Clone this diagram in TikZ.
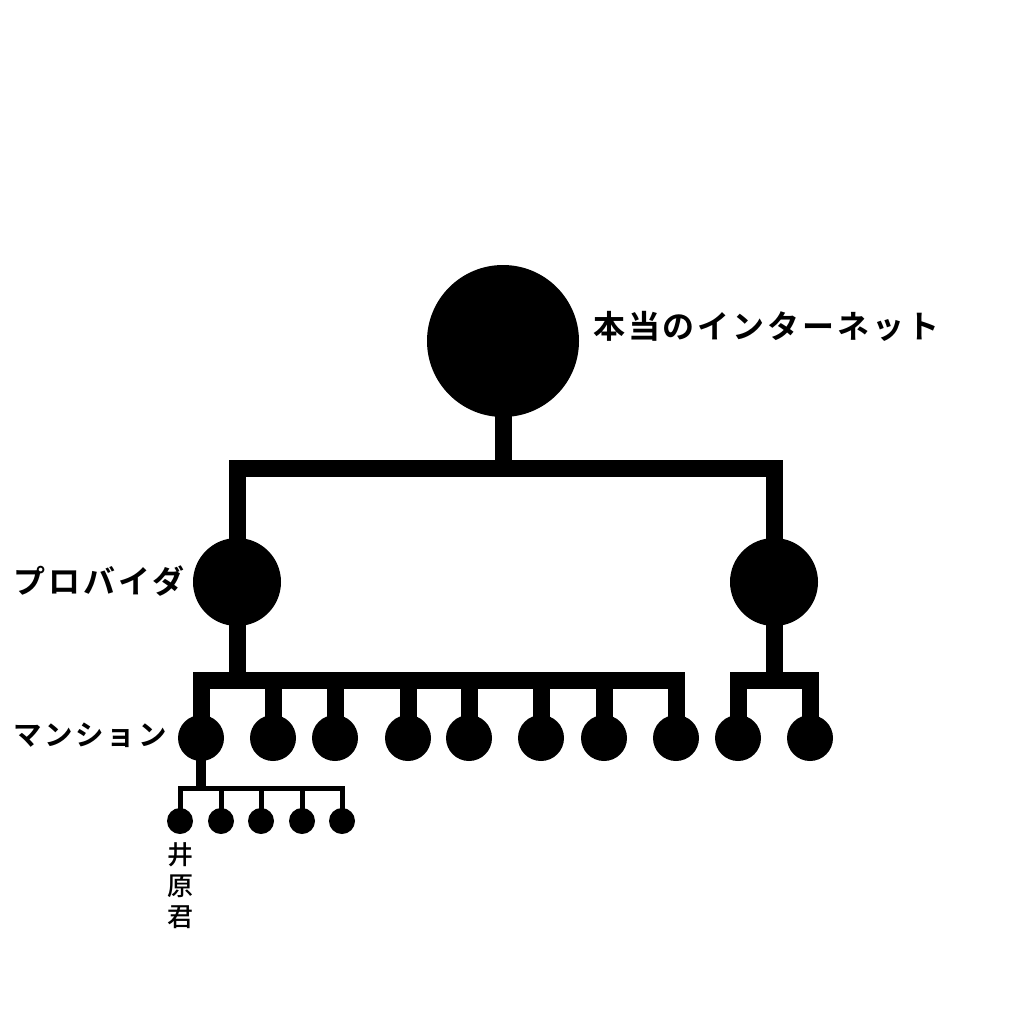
\documentclass[tikz,border=0pt]{standalone}
\usepackage{fontspec}
\newfontfamily\cjkTop{Noto Sans CJK JP Bold}[LetterSpace=9]
\newfontfamily\cjkMid{Noto Sans CJK JP Bold}[LetterSpace=9.5]
\newfontfamily\cjkLow{Noto Sans CJK JP Medium}
\usetikzlibrary{positioning, calc}
\newcommand\bigjp{\fontsize{32pt}{34pt}\selectfont\cjkTop}
\newcommand\ispjp{\fontsize{32pt}{34pt}\selectfont\cjkMid}
\newcommand\midjp{\fontsize{28.5pt}{30pt}\selectfont\cjkMid}
\newcommand\smalljp{\fontsize{26pt}{31pt}\selectfont\cjkLow}
\tikzset{
  %% filled dot of the tree
  hub/.style={circle, fill=black, draw=none, inner sep=0pt, minimum size=#1},
  %% thick square bus line
  wire/.style={draw=black, line width=#1, line join=miter, line cap=butt},
  lbl/.style={inner sep=0pt, text=black}
}
\begin{document}
\begin{tikzpicture}[x=1pt, y=-1pt]
\useasboundingbox (0,0) rectangle (1024,1024);

%% ---- nodes
\node[hub=152pt] (net) at (503,341) {};
\node[hub=88pt] (ispA) at (237,582) {};
\node[hub=88pt] (ispB) at (774,582) {};

\foreach \x [count=\i] in {201,273,335,408,469,541,604,676}
  \node[hub=46pt] (mA\i) at (\x,738) {};
\foreach \x [count=\i] in {738,810}
  \node[hub=46pt] (mB\i) at (\x,738) {};

\foreach \x [count=\i] in {180,221,261,302,342}
  \node[hub=26pt] (room\i) at (\x,821) {};

\coordinate (busTop) at (503,468);
\coordinate (busA) at (237,680);
\coordinate (busB) at (774,680);
\coordinate (busRoom) at (201,788);

%% ---- wires
\draw[wire=17pt] (net.center) -- (busTop);
\draw[wire=17pt] (ispA.center) |- (busTop) -| (ispB.center);

\draw[wire=17pt] (ispA.center) -- (busA);
\draw[wire=17pt] (mA1.center) |- (busA) -| (mA8.center);
\foreach \i in {2,...,7}
  \draw[wire=17pt] (mA\i.center) -- (mA\i.center|-busA);

\draw[wire=17pt] (ispB.center) -- (busB);
\draw[wire=17pt] (mB1.center) |- (busB) -| (mB2.center);

\draw[wire=10pt] (mA1.center) -- ($(busRoom)+(0,-2)$);
\draw[wire=5pt] (room1.center) |- (busRoom) -| (room5.center);
\foreach \i in {2,3,4}
  \draw[wire=5pt] (room\i.center) -- (room\i.center|-busRoom);

%% ---- labels
\node[lbl, font=\bigjp, anchor=west] (netLbl) at (593,326) {本当のインターネット};
\node[lbl, font=\ispjp, anchor=west] (ispLbl) at (13,581) {プロバイダ};
\node[lbl, font=\midjp, anchor=west] (mansionLbl) at (13,735) {マンション};
\node[lbl, font=\smalljp, align=center, below=8pt of room1] (roomLbl) {井\\原\\君};

\end{tikzpicture}
\end{document}
